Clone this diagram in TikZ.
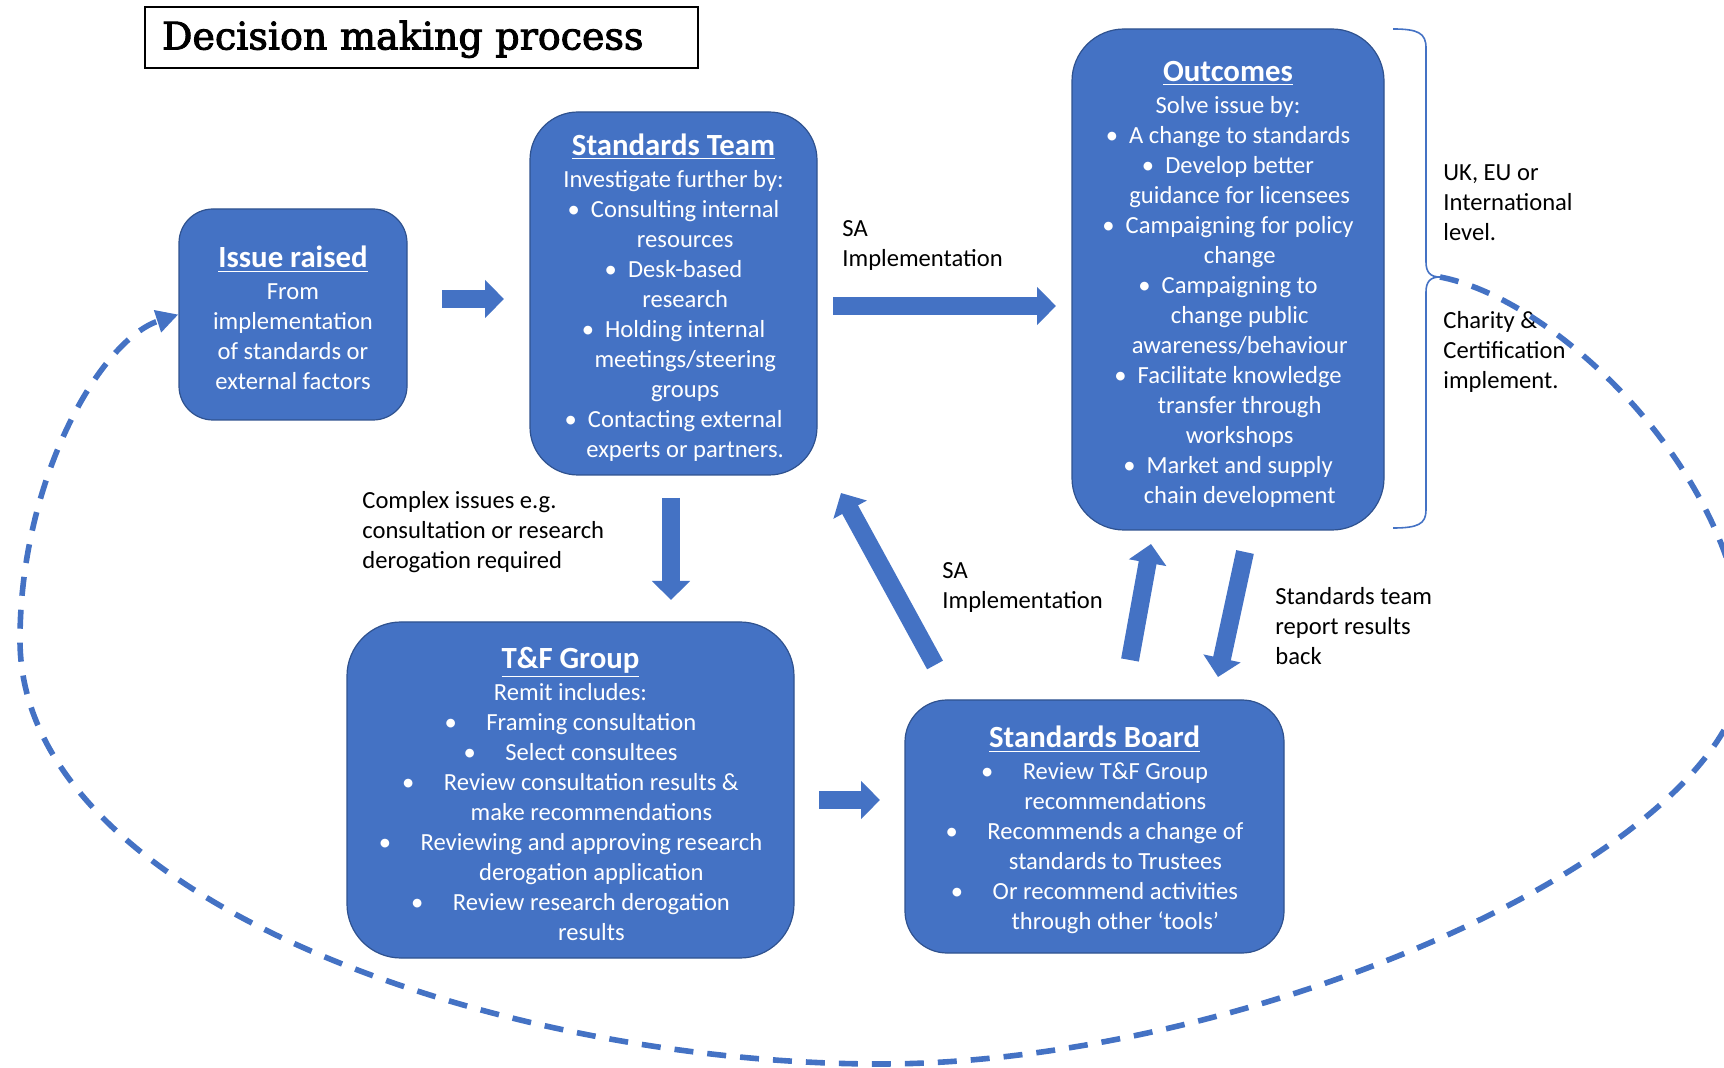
\documentclass[tikz,border=0pt]{standalone}
\usepackage{fontspec}
\setmainfont{Carlito}
\newfontfamily\titlefont[FakeBold=2.5]{DejaVu Serif}
\usetikzlibrary{arrows.meta}
\definecolor{boxblue}{HTML}{4472C4}
\definecolor{boxedge}{HTML}{2F528F}
\newcommand{\bitem}{\textbullet\ \ }
\newcommand{\bcont}{\hphantom{\textbullet\ \ }}
\newcommand{\witem}{\textbullet\hspace{1.2em}}
\newcommand{\wcont}{\hphantom{\textbullet\hspace{1.2em}}}
\newcommand{\boxhead}[1]{\rule{0pt}{14.5pt}{\fontsize{15.4}{18}\selectfont\bfseries\underline{#1}}}

\begin{document}
\begin{tikzpicture}[x=0.5pt,y=-0.5pt,
        every node/.style={font=\fontsize{12.3}{15}\selectfont},
        boxnode/.style={draw=boxedge, fill=boxblue, text=white, align=center,
            inner sep=0pt, line width=0.6pt},
        titlebox/.style={draw=black, line width=1.2pt, align=left,
            minimum height=30.5pt, text width=259.5pt, inner xsep=8.5pt,
            text height=15pt, text depth=3pt,
            font=\titlefont\fontsize{19}{23}\selectfont},
        sidenote/.style={anchor=west, align=left, inner sep=0pt},
        blockarrow/.style={draw=boxblue, line width=9pt,
            -{Triangle[length=9.5pt,width=18.5pt]}},
        returnline/.style={draw=boxblue, line width=2.8pt,
            dash pattern=on 9.5pt off 7pt, -{Triangle[length=11pt,width=11pt]}},
        bracket/.style={draw=boxblue, line width=0.8pt}]
    \useasboundingbox (0,0) rectangle (1724,1068);

    \node[titlebox] (title) at (421.5,37.5) {Decision making process};

    \node[boxnode, minimum width=114pt, minimum height=105.5pt, rounded corners=17pt]
        (issue) at (293,314.5)
        {\boxhead{Issue raised}\\[1pt] From\\ implementation\\ of standards or\\ external factors};
    \node[boxnode, minimum width=143.5pt, minimum height=181.5pt, rounded corners=24pt]
        (team) at (673.5,293.5)
        {\boxhead{Standards Team}\\[1pt] Investigate further by:\\
         \bitem Consulting internal\\ \bcont resources\\
         \bitem Desk-based\\ \bcont research\\
         \bitem Holding internal\\ \bcont meetings/steering\\ \bcont groups\\
         \bitem Contacting external\\ \bcont experts or partners.};
    \node[boxnode, minimum width=156pt, minimum height=250.5pt, rounded corners=26pt]
        (outcomes) at (1228,279.5)
        {\boxhead{Outcomes}\\[1pt] Solve issue by:\\
         \bitem A change to standards\\
         \bitem Develop better\\ \bcont guidance for licensees\\
         \bitem Campaigning for policy\\ \bcont change\\
         \bitem Campaigning to\\ \bcont change public\\ \bcont awareness/behaviour\\
         \bitem Facilitate knowledge\\ \bcont transfer through\\ \bcont workshops\\
         \bitem Market and supply\\ \bcont chain development};
    \node[boxnode, minimum width=223.5pt, minimum height=168pt, rounded corners=27pt]
        (tf) at (570.5,790)
        {\boxhead{T\&F Group}\\[1pt] Remit includes:\\
         \witem Framing consultation\\
         \witem Select consultees\\
         \witem Review consultation results \&\\ \wcont make recommendations\\
         \witem Reviewing and approving research\\ \wcont derogation application\\
         \witem Review research derogation\\ \wcont results};
    \node[boxnode, minimum width=189.5pt, minimum height=126.5pt, rounded corners=21pt]
        (board) at (1094.5,826.5)
        {\boxhead{Standards Board}\\[1pt]
         \witem Review T\&F Group\\ \wcont recommendations\\
         \witem Recommends a change of\\ \wcont standards to Trustees\\
         \witem Or recommend activities\\ \wcont through other `tools'};

    \node[sidenote] (sa1) at (842,246) {SA\\Implementation};
    \node[sidenote] (level1) at (1443,203) {UK, EU or\\International\\level.};
    \node[sidenote] (level2) at (1443,352) {Charity \&\\Certification\\implement.};
    \node[sidenote] (complex) at (362,532) {Complex issues e.g.\\consultation or research\\derogation required};
    \node[sidenote] (sa2) at (942,588) {SA\\Implementation};
    \node[sidenote] (report) at (1275,626) {Standards team\\report results\\back};

    % block arrows
    \coordinate (a1) at (442,299);  \coordinate (a2) at (504,299);
    \coordinate (b1) at (833,306);  \coordinate (b2) at (1056,306);
    \coordinate (c1) at (671,498);  \coordinate (c2) at (671,600);
    \coordinate (d1) at (819,800);  \coordinate (d2) at (880,800);
    \coordinate (e1) at (935,665);  \coordinate (e2) at (841,493);
    \coordinate (f1) at (1130,660); \coordinate (f2) at (1151,544);
    \coordinate (g1) at (1245,552); \coordinate (g2) at (1218,677);
    \draw[blockarrow] (a1) -- (a2);
    \draw[blockarrow] (b1) -- (b2);
    \draw[blockarrow] (c1) -- (c2);
    \draw[blockarrow] (d1) -- (d2);
    \draw[blockarrow] (e1) -- (e2);
    \draw[blockarrow] (f1) -- (f2);
    \draw[blockarrow] (g1) -- (g2);

    \coordinate (bracetip) at (1440,277);
    \draw[bracket] (1393,29) .. controls (1418,29) and (1426,33) .. (1426,48)
        -- (1426,262) .. controls (1426,272) and (1430,277) .. (bracetip)
        .. controls (1430,277) and (1426,282) .. (1426,292)
        -- (1426,510) .. controls (1426,524) and (1418,528) .. (1393,528);

    \draw[returnline] (bracetip) .. controls (1560,300) and (1745,480) .. (1745,660)
        .. controls (1745,850) and (1250,1064) .. (880,1064)
        .. controls (500,1064) and (20,900) .. (20,640)
        .. controls (20,480) and (100,340) .. (issue.west);
\end{tikzpicture}
\end{document}
